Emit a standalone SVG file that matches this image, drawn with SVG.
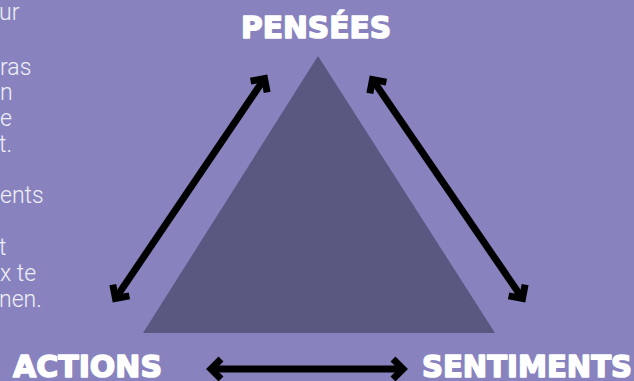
<svg xmlns="http://www.w3.org/2000/svg" width="634" height="381" viewBox="0 0 634 381">
<style>
.bg{fill:#8883be}
.tri{fill:#5a5880}
.para{font-family:Roboto,"Liberation Sans",sans-serif;font-weight:300;font-size:23px;fill:#f0eff8}
.lbl{font-family:"DejaVu Sans","Liberation Sans",sans-serif;font-weight:bold;font-size:31px;fill:#ffffff;stroke:#ffffff;stroke-width:1.6;stroke-linejoin:round}
.conn{stroke:#000;stroke-width:7;fill:none}
</style>
<defs>
<marker id="head" markerUnits="userSpaceOnUse" viewBox="-20 -20 30 40" refX="0" refY="0" markerWidth="30" markerHeight="40" orient="auto-start-reverse">
<path d="M -10 -10 L 0 0 L -10 10" fill="none" stroke="#000" stroke-width="7" stroke-linejoin="miter"/>
</marker>
</defs>
<rect class="bg" x="0" y="0" width="634" height="381"/>
<g id="paragraph">
<text class="para" x="-1" y="20">ur</text>
<text class="para" x="0" y="75">ras</text>
<text class="para" x="0" y="100">n</text>
<text class="para" x="0" y="126">e</text>
<text class="para" x="-1" y="152">t.</text>
<text class="para" x="0" y="203">ents</text>
<text class="para" x="-1" y="255">t</text>
<text class="para" x="0" y="281">x te</text>
<text class="para" x="-1" y="307">nen.</text>
</g>
<g id="triangle">
<polygon class="tri" points="318,56 495,333 143,333"/>
</g>
<g id="pensees">
<text class="lbl" x="241" y="38" textLength="150" lengthAdjust="spacingAndGlyphs">PENSÉES</text>
</g>
<g id="actions">
<text class="lbl" x="13" y="377" textLength="149" lengthAdjust="spacingAndGlyphs">ACTIONS</text>
</g>
<g id="sentiments">
<text class="lbl" x="422" y="377" textLength="210" lengthAdjust="spacingAndGlyphs">SENTIMENTS</text>
</g>
<g id="connectors">
<line class="conn" x1="115.5" y1="298.5" x2="264.5" y2="78.5" marker-start="url(#head)" marker-end="url(#head)"/>
<line class="conn" x1="372.5" y1="79.5" x2="522.5" y2="298.5" marker-start="url(#head)" marker-end="url(#head)"/>
<line class="conn" x1="211" y1="369" x2="403" y2="369" marker-start="url(#head)" marker-end="url(#head)"/>
</g>
</svg>
